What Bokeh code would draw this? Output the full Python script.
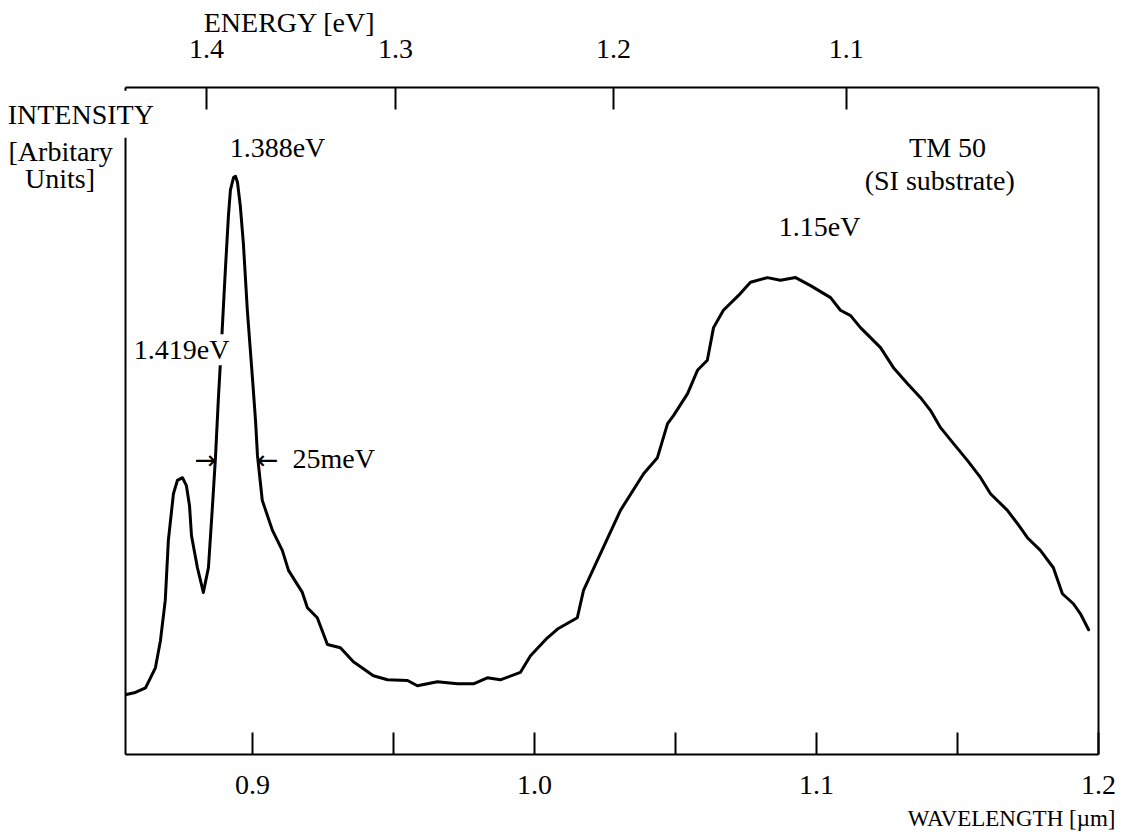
from bokeh.plotting import figure
from bokeh.models import Range1d, LinearAxis, FixedTicker, Label, PrintfTickFormatter
from bokeh.embed import file_html
from bokeh.resources import INLINE

# Photoluminescence spectrum, sample TM 50 on a semi-insulating substrate
wavelength_um = [
    0.8553, 0.8585, 0.8621, 0.8656, 0.8674, 0.8691, 0.8702, 0.8720, 0.8734, 0.8752,
    0.8766, 0.8777, 0.8784, 0.8805, 0.8826, 0.8844, 0.8858,
    0.8869, 0.8879, 0.8887, 0.8894, 0.8904, 0.8915, 0.8922, 0.8933, 0.8940, 0.8947,
    0.8957, 0.8968, 0.8982, 0.9000, 0.9011, 0.9018, 0.9035, 0.9071, 0.9106, 0.9128,
    0.9177, 0.9195, 0.9230, 0.9266, 0.9312, 0.9358, 0.9429, 0.9479, 0.9550, 0.9585,
    0.9656, 0.9727, 0.9784, 0.9833, 0.9879, 0.9950, 0.9986, 1.0046, 1.0085, 1.0152,
    1.0174, 1.0223, 1.0305, 1.0387, 1.0436, 1.0472, 1.0493, 1.0543, 1.0578, 1.0613,
    1.0635, 1.0670, 1.0730, 1.0766, 1.0826, 1.0872, 1.0926, 1.0979, 1.1050, 1.1085,
    1.1121, 1.1156, 1.1227, 1.1273, 1.1323, 1.1369, 1.1404, 1.1440, 1.1486, 1.1535,
    1.1582, 1.1617, 1.1677, 1.1713, 1.1748, 1.1794, 1.1840, 1.1872, 1.1911, 1.1936,
    1.1965,
]
intensity = [
    0.90, 0.93, 1.00, 1.30, 1.71, 2.31, 3.21, 3.91, 4.11, 4.15,
    4.03, 3.73, 3.28, 2.80, 2.43, 2.80, 3.70,
    4.45, 5.31, 5.91, 6.46, 7.26, 8.08, 8.46, 8.65, 8.67, 8.58,
    8.23, 7.66, 6.66, 5.65, 5.01, 4.48, 3.81, 3.36, 3.06, 2.76,
    2.43, 2.20, 2.05, 1.65, 1.60, 1.39, 1.18, 1.12, 1.11, 1.03,
    1.09, 1.06, 1.06, 1.15, 1.12, 1.23, 1.48, 1.75, 1.89, 2.05,
    2.46, 2.91, 3.66, 4.21, 4.45, 4.96, 5.08, 5.41, 5.76, 5.91,
    6.40, 6.66, 6.91, 7.08, 7.15, 7.11, 7.15, 7.03, 6.85, 6.66,
    6.58, 6.40, 6.10, 5.80, 5.56, 5.35, 5.16, 4.90, 4.66, 4.41,
    4.15, 3.91, 3.66, 3.46, 3.25, 3.06, 2.80, 2.41, 2.26, 2.11,
    1.87,
]

# Bottom (wavelength) axis
wavelength_major_ticks = [0.9, 1.0, 1.1, 1.2]
wavelength_minor_ticks = [0.95, 1.05, 1.15]

# Top (photon energy) axis: where each energy falls on the wavelength scale
energy_tick_labels = ["1.4", "1.3", "1.2", "1.1"]
energy_tick_wavelength_um = [0.8837, 0.9507, 1.0280, 1.1106]

FONT = "Liberation Serif"
SIZE = "28px"

# Boxed plotting area and the margins around it (pixels)
W, H = 1124, 834
BOX_L, BOX_R, BOX_T, BOX_B = 125, 1098, 87, 754
X0, X1 = 0.855, 1.2
Y0, Y1 = 0.0, 10.0
px_x = (BOX_R - BOX_L) / (X1 - X0)
px_y = (BOX_B - BOX_T) / (Y1 - Y0)

# The frame fills the whole canvas; the box is drawn by axes pinned to the data limits
p = figure(
    width=W, height=H,
    x_range=Range1d(X0 - BOX_L / px_x, X1 + (W - BOX_R) / px_x),
    y_range=Range1d(Y0 - (H - BOX_B) / px_y, Y1 + BOX_T / px_y),
    output_backend="svg", toolbar_location=None,
    x_axis_location=None, y_axis_location=None,
    min_border=0,
)
p.grid.visible = False
p.outline_line_color = None
p.background_fill_color = "white"
p.border_fill_color = "white"


def styled_axis(**kw):
    return LinearAxis(
        axis_line_width=2, axis_line_color="black",
        major_tick_line_width=2, minor_tick_line_width=2,
        major_tick_in=22, major_tick_out=0,
        minor_tick_in=22, minor_tick_out=0,
        major_label_text_font=FONT, major_label_text_font_size=SIZE,
        major_label_text_color="black",
        **kw,
    )


bottom = styled_axis(
    ticker=FixedTicker(ticks=wavelength_major_ticks, minor_ticks=wavelength_minor_ticks),
    formatter=PrintfTickFormatter(format="%.1f"),
    major_label_standoff=21,
    fixed_location=Y0, bounds=(X0, X1),
)
p.add_layout(bottom, "below")

top = styled_axis(
    ticker=FixedTicker(ticks=energy_tick_wavelength_um, minor_ticks=[]),
    major_label_overrides=dict(zip(energy_tick_wavelength_um, energy_tick_labels)),
    major_label_standoff=30,
    fixed_location=Y1, bounds=(X0, X1),
)
p.add_layout(top, "above")

for side, loc in (("left", X0), ("right", X1)):
    frame_side = LinearAxis(
        ticker=FixedTicker(ticks=[], minor_ticks=[]),
        axis_line_width=2, axis_line_color="black",
        major_tick_line_color=None, minor_tick_line_color=None,
        major_label_text_color=None,
        fixed_location=loc, bounds=(Y0, Y1),
    )
    p.add_layout(frame_side, side)

p.line(wavelength_um, intensity, line_width=3, line_color="black",
       line_join="round", line_cap="round")


def add_text(text, x, y, size=SIZE, align="center", bg=True, font=FONT, padding=0):
    p.add_layout(Label(
        x=x, y=y, text=text,
        text_font=font, text_font_size=size, text_color="black",
        text_align=align, text_baseline="middle",
        background_fill_color="white" if bg else None,
        padding=padding,
    ))


# Peak annotations
add_text("1.388eV", 0.9089, 9.10)
add_text("1.419eV", 0.8749, 6.07)
add_text("25meV", 0.9288, 4.44)
add_text("\u2192", 0.8834, 4.41, size="26px", bg=False, font="DejaVu Sans")
add_text("\u2190", 0.9054, 4.41, size="26px", bg=False, font="DejaVu Sans")
add_text("1.15eV", 1.1011, 7.92)

# Sample description
add_text("TM 50", 1.1465, 9.10)
add_text("(SI substrate)", 1.1437, 8.61)

# Axis titles
add_text("ENERGY [eV]", 0.9132, 10.97)
add_text("WAVELENGTH [\u00b5m]", 1.1692, -0.96, size="23px")
add_text("INTENSITY", 0.8104, 9.60, align="left", padding=8)
add_text("[Arbitary", 0.8320, 9.04)
add_text("Units]", 0.8318, 8.64)

open("out.html", "w").write(file_html(p, INLINE))
